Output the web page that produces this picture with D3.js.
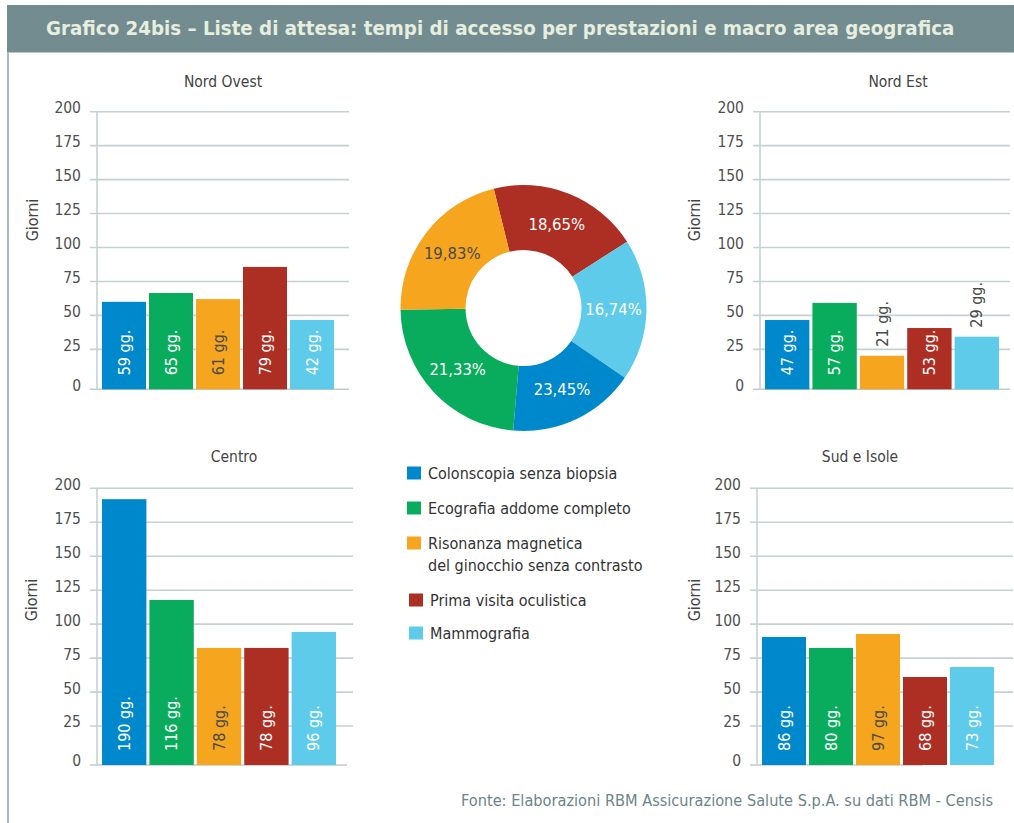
<!DOCTYPE html>
<html>
<head>
<meta charset="utf-8">
<script src="https://cdn.jsdelivr.net/npm/d3@7/dist/d3.min.js"></script>
<style>
  body { margin: 0; background: #fff; }
  svg { display: block; font-family: "DejaVu Sans Condensed", "DejaVu Sans", sans-serif; }
</style>
</head>
<body>
<svg id="chart" width="1014" height="823"></svg>
<script>
// data
const categories = ["Colonscopia senza biopsia", "Ecografia addome completo",
  "Risonanza magnetica|del ginocchio senza contrasto", "Prima visita oculistica", "Mammografia"];
const colors = ["#0088cc", "#09ac5c", "#f6a51f", "#ad2e23", "#5ecbea"];
const regions = ["Nord Ovest", "Nord Est", "Centro", "Sud e Isole"];

// bar heights as drawn (giorni) and the printed labels
const barsNordOvest = [60, 66.5, 62, 85.7, 46.6];
const barsNordEst = [46.6, 59.2, 20.3, 40.7, 34.3];
const barsCentro = [192, 117.8, 82.5, 82.5, 94.3];
const barsSud = [90.6, 82.5, 92.8, 61.1, 68.5];
const labelsNordOvest = ["59 gg.", "65 gg.", "61 gg.", "79 gg.", "42 gg."];
const labelsNordEst = ["47 gg.", "57 gg.", "21 gg.", "53 gg.", "29 gg."];
const labelsCentro = ["190 gg.", "116 gg.", "78 gg.", "78 gg.", "96 gg."];
const labelsSud = ["86 gg.", "80 gg.", "97 gg.", "68 gg.", "73 gg."];
const yTicks = [0, 25, 50, 75, 100, 125, 150, 175, 200];

// donut: slices clockwise from the top-left, with their colour index and printed label
const donutShares = [19.83, 18.65, 16.74, 23.45, 21.33];
const donutColorIdx = [3, 4, 0, 1, 2];
const donutLabels = ["18,65%", "16,74%", "23,45%", "21,33%", "19,83%"];

const svg = d3.select("#chart");

// header
svg.append("rect").attr("x", 7).attr("y", 5).attr("width", 1007).attr("height", 47.5).attr("fill", "#738c8f");
svg.append("text").attr("x", 46).attr("y", 35)
  .attr("font-size", 20.3).attr("font-weight", "bold").attr("fill", "#e6eedf")
  .text("Grafico 24bis \u2013 Liste di attesa: tempi di accesso per prestazioni e macro area geografica");
svg.append("line").attr("x1", 8).attr("x2", 8).attr("y1", 52).attr("y2", 823)
  .attr("stroke", "#a9b9bc").attr("stroke-width", 2);

const panels = [
  { name: regions[0], bars: barsNordOvest, labels: labelsNordOvest, axisX: 97, gx1: 90, gx2: 349, bx2: 349,
    yTop: 111.7, y0: 383.3, base: 389.3, band: [100.5, 335.5], tickX: 81, titleX: 223, titleY: 82, gX: 32, gY: 220 },
  { name: regions[1], bars: barsNordEst, labels: labelsNordEst, axisX: 760, gx1: 753, gx2: 1010, bx2: 1010,
    yTop: 111.7, y0: 383.3, base: 389.3, band: [763.5, 1000.5], tickX: 744, titleX: 898, titleY: 82, gX: 694, gY: 220 },
  { name: regions[2], bars: barsCentro, labels: labelsCentro, axisX: 97, gx1: 90, gx2: 353, bx2: 347,
    yTop: 488.3, y0: 760, base: 765, band: [100.5, 337.5], tickX: 81, titleX: 234, titleY: 457, gX: 31, gY: 600 },
  { name: regions[3], bars: barsSud, labels: labelsSud, axisX: 757, gx1: 750, gx2: 1013, bx2: 923,
    yTop: 488.3, y0: 760, base: 765, band: [760.5, 995.5], tickX: 741, titleX: 860, titleY: 457, gX: 694, gY: 600 }
];

panels.forEach(p => {
  const g = svg.append("g");
  const y = d3.scaleLinear().domain([0, 200]).range([p.y0, p.yTop]);
  const x = d3.scaleBand().domain(d3.range(5)).range(p.band).paddingInner(0.064).paddingOuter(0.032);

  // gridlines
  g.selectAll(".grid").data(yTicks.filter(d => d > 0)).join("line")
    .attr("x1", p.gx1).attr("x2", p.gx2)
    .attr("y1", d => y(d)).attr("y2", d => y(d))
    .attr("stroke", "#c6d1d4").attr("stroke-width", 1.6);
  g.append("line").attr("x1", p.gx1).attr("x2", p.bx2).attr("y1", p.base).attr("y2", p.base)
    .attr("stroke", "#c0cbce").attr("stroke-width", 1.6);
  g.append("line").attr("x1", p.axisX).attr("x2", p.axisX).attr("y1", y(200)).attr("y2", p.base)
    .attr("stroke", "#c6d1d4").attr("stroke-width", 1.6);

  // tick labels
  g.selectAll(".tick").data(yTicks).join("text")
    .attr("x", p.tickX)
    .attr("y", d => (d === 0 ? p.base : y(d)) - 4)
    .attr("dy", "0.35em")
    .attr("text-anchor", "end").attr("font-size", 15.5).attr("fill", "#505050")
    .text(d => d);

  g.append("text").attr("x", p.titleX).attr("y", p.titleY).attr("dy", "0.35em")
    .attr("text-anchor", "middle").attr("font-size", 15.5).attr("fill", "#444")
    .text(p.name);
  g.append("text").attr("transform", `translate(${p.gX},${p.gY}) rotate(-90)`)
    .attr("dy", "0.35em").attr("text-anchor", "middle").attr("font-size", 16).attr("fill", "#444")
    .text("Giorni");

  // bars
  g.selectAll(".bar").data(p.bars).join("rect")
    .attr("x", (d, i) => x(i)).attr("width", x.bandwidth())
    .attr("y", d => y(d)).attr("height", d => p.base - y(d))
    .attr("fill", (d, i) => colors[i]);

  // value labels, inside the bar when they fit, above it otherwise
  p.bars.forEach((v, i) => {
    const t = g.append("text")
      .attr("dy", "0.35em").attr("font-size", 16)
      .text(p.labels[i]);
    const len = t.node().getComputedTextLength();
    const inside = p.base - y(v) > len + 8;
    const cx = x(i) + x.bandwidth() / 2;
    const by = inside ? p.base - 14 : y(v) - 9;
    t.attr("transform", `translate(${cx},${by}) rotate(-90)`)
      .attr("fill", inside && i !== 2 ? "#fff" : "#4a4a4a");
  });
});

// donut
const cx = 523.5, cy = 308;
const pie = d3.pie().sort(null).value(d => d)
  .startAngle(-14 * Math.PI / 180).endAngle((360 - 14) * Math.PI / 180);
const arcs = pie(donutShares);
const arc = d3.arc().innerRadius(58).outerRadius(123);
const labelArc = d3.arc().innerRadius(90).outerRadius(90);
const dg = svg.append("g").attr("transform", `translate(${cx},${cy})`);
dg.selectAll("path").data(arcs).join("path")
  .attr("d", arc).attr("fill", (d, i) => colors[donutColorIdx[i]]);
dg.selectAll("text").data(arcs).join("text")
  .attr("x", d => labelArc.centroid(d)[0]).attr("y", d => labelArc.centroid(d)[1])
  .attr("dy", "0.35em").attr("text-anchor", "middle").attr("font-size", 16.5)
  .attr("fill", (d, i) => donutColorIdx[i] === 2 ? "#4a4a4a" : "#fff")
  .text((d, i) => donutLabels[i]);

// legend
const legendY = [473, 508, 543, 600, 633];
const legendSq = [407, 407, 407, 409, 409];
const lg = svg.append("g");
categories.forEach((c, i) => {
  lg.append("rect").attr("x", legendSq[i]).attr("y", legendY[i] - 6.5)
    .attr("width", 14).attr("height", 13).attr("fill", colors[i]);
  const lines = c.split("|");
  lines.forEach((ln, j) => {
    lg.append("text").attr("x", legendSq[i] + 21).attr("y", legendY[i] + j * 22)
      .attr("dy", "0.35em").attr("font-size", 16).attr("fill", "#333")
      .text(ln);
  });
});

// source
svg.append("text").attr("x", 461).attr("y", 800).attr("dy", "0.35em")
  .attr("font-size", 16.2).attr("fill", "#6d8488")
  .text("Fonte: Elaborazioni RBM Assicurazione Salute S.p.A. su dati RBM - Censis");
</script>
</body>
</html>
